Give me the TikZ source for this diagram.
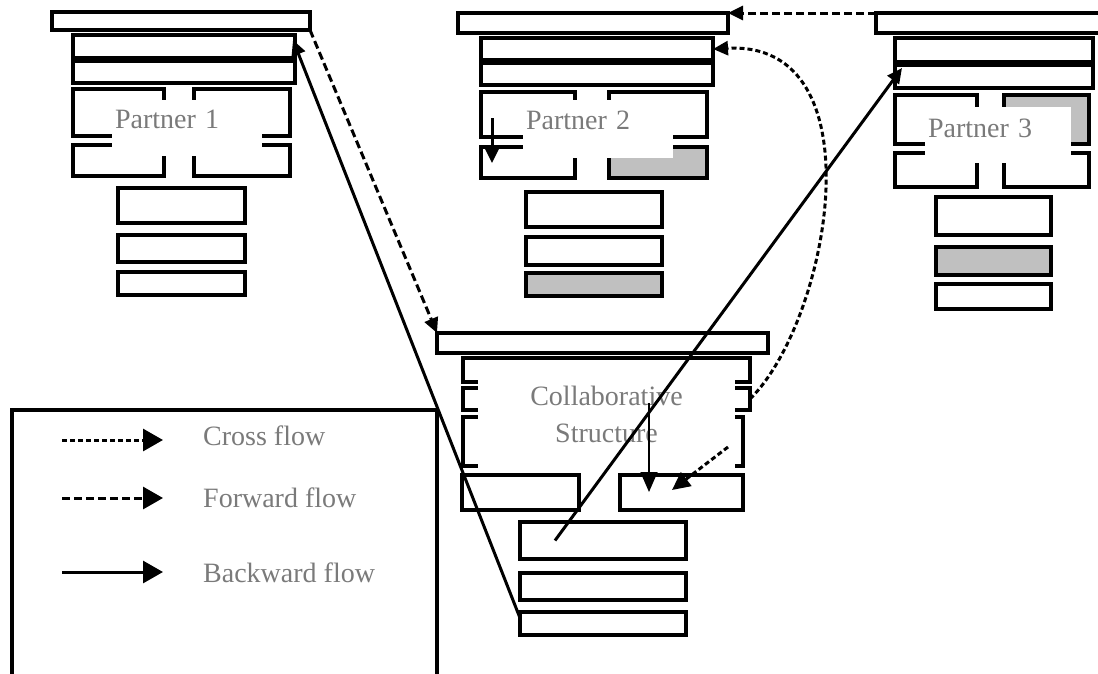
\documentclass[tikz,border=0pt]{standalone}
\usepackage{fontspec}
\setmainfont{Liberation Serif}
\usetikzlibrary{arrows.meta,calc}
\definecolor{txtgray}{HTML}{7A7A7A}
\definecolor{boxgray}{HTML}{C0C0C0}
\newcommand{\flowfont}{\fontsize{28}{37}\selectfont}

\begin{document}
\begin{tikzpicture}[
    x=1pt, y=-1pt,
    box/.style={draw, line width=3.3pt, inner sep=0pt, outer sep=0pt},
    grayed/.style={box, fill=boxgray},
    sz/.style 2 args={minimum width=#1pt, minimum height=#2pt},
    hole/.style={fill=white, inner xsep=3pt, inner ysep=0pt, outer sep=0pt, anchor=north west, font=\flowfont, text=txtgray},
    lbl/.style={inner sep=0pt, anchor=base west, font=\flowfont, text=txtgray},
    arr/.style={-{Triangle[length=15pt,width=14pt]}},
    legarr/.style={-{Triangle[length=20pt,width=22pt]}},
    flow/.style={line width=3pt},
    fwd/.style={flow, dash pattern=on 8pt off 4pt},
    crs/.style={flow, dash pattern=on 5pt off 3pt},
    bwd/.style={flow}
]
\useasboundingbox (0,0) rectangle (1098,673);
\clip (0,0) rectangle (1098,673);

% Partner 1
\node[box, sz={258}{18}] (p1top) at (181,21) {};
\node[box, sz={222}{23}] (p1a) at (184,46.5) {};
\node[box, sz={222}{22}] (p1b) at (184,72) {};
\node[box, sz={91}{47}] (p1ul) at (118.5,112.5) {};
\node[box, sz={96}{47}] (p1ur) at (242,112.5) {};
\node[box, sz={91}{31}] (p1ll) at (118.5,160.5) {};
\node[box, sz={96}{31}] (p1lr) at (242,160.5) {};
\node[hole, text width=144pt, text height=28pt, text depth=28pt, align=left] (p1) at (112,100) {Partner 1};
\node[box, sz={127}{35}] (p1l1) at (181.5,205.5) {};
\node[box, sz={127}{27}] (p1l2) at (181.5,248.5) {};
\node[box, sz={127}{23}] (p1l3) at (181.5,283.5) {};

% Partner 2
\node[box, sz={270}{20}] (p2top) at (593,23) {};
\node[box, sz={232}{22}] (p2a) at (597,49) {};
\node[box, sz={232}{22}] (p2b) at (597,74) {};
\node[box, sz={94}{45}] (p2ul) at (528,114.5) {};
\node[box, sz={98}{45}] (p2ur) at (658,114.5) {};
\node[box, sz={94}{31}] (p2ll) at (528,162.5) {};
\node[grayed, sz={98}{31}] (p2lr) at (658,162.5) {};
\node[hole, text width=144pt, text height=29pt, text depth=29pt, align=left] (p2) at (523,100) {Partner 2};
\node[box, sz={136}{35}] (p2l1) at (594,209.5) {};
\node[box, sz={136}{28}] (p2l2) at (594,251) {};
\node[grayed, sz={136}{23}] (p2l3) at (594,284.5) {};

% Partner 3
\node[box, sz={239}{20}] (p3top) at (995.5,23) {};
\node[box, sz={198}{24}] (p3a) at (994,50) {};
\node[box, sz={198}{23}] (p3b) at (994,76.5) {};
\node[box, sz={82}{49}] (p3ul) at (936,119.5) {};
\node[grayed, sz={85}{49}] (p3ur) at (1046.5,119.5) {};
\node[box, sz={82}{34}] (p3ll) at (936,170) {};
\node[box, sz={85}{34}] (p3lr) at (1046.5,170) {};
\node[hole, text width=140pt, text height=30pt, text depth=26pt, align=left] (p3) at (925,107) {Partner 3};
\node[box, sz={115}{38}] (p3l1) at (993.5,216) {};
\node[grayed, sz={115}{28}] (p3l2) at (993.5,261) {};
\node[box, sz={115}{25}] (p3l3) at (993.5,296.5) {};

% Collaborative structure
\node[box, sz={331}{20}] (ctop) at (602.5,343) {};
\node[box, sz={287}{24}] (cs1) at (606.5,370) {};
\node[box, sz={287}{22}] (cs2) at (606.5,399) {};
\node[box, sz={280}{49}] (cs3) at (603,441.5) {};
\node[hole, text width=251pt, text height=44pt, text depth=64pt, align=center] (cs) at (478,361) {Collaborative\\Structure};
\node[box, sz={117}{35}] (cl1) at (520.5,492.5) {};
\node[box, sz={123}{35}] (cl2) at (681.5,492.5) {};
\node[box, sz={166}{37}] (cb1) at (603,540.5) {};
\node[box, sz={166}{27}] (cb2) at (603,586.5) {};
\node[box, sz={166}{23}] (cb3) at (603,623.5) {};

% legend
\node[box, sz={425}{290}] (legend) at (224.5,555) {};
\node[lbl] (lcross) at (203,445) {Cross flow};
\node[lbl] (lfwd) at (203,507) {Forward flow};
\node[lbl] (lbwd) at (203,582) {Backward flow};
\coordinate (lc0) at (62,440); \coordinate (lc1) at (163,440);
\coordinate (lf0) at (62,498); \coordinate (lf1) at (163,498);
\coordinate (lb0) at (62,572); \coordinate (lb1) at (163,572);
\draw[crs, legarr] (lc0) -- (lc1);
\draw[fwd, legarr] (lf0) -- (lf1);
\draw[bwd, legarr] (lb0) -- (lb1);

% flows
\draw[fwd, arr] (p1top.south east) -- (ctop.north west);
\draw[fwd, arr] (p3top.north west) -- (p2top.north east);
\draw[bwd, arr] ($(cb3.north west)+(0,6)$) -- ($(p1a.north east)+(-2,5)$);
\draw[bwd, arr] ($(cb1.west)+(35,0)$) -- ($(p3b.north west)+(7,3)$);
\draw[crs, arr] (cs2.east) .. controls +(80,-79) and +(167,-9) .. (p2a.east);
\draw[bwd, arr] ($(p2ul.west)+(11,3.5)$) -- ($(p2ll.west)+(11,0.5)$);
\draw[line width=1.6pt, -{Triangle[length=20pt,width=17pt]}] ($(cl2.north west)+(29,-72)$) -- ($(cl2.north west)+(29,17)$);
\draw[crs, -{Triangle[length=18pt,width=17pt]}] ($(cs3.east)+(-15,5.5)$) -- ($(cl2.north west)+(52,15)$);
\end{tikzpicture}
\end{document}
